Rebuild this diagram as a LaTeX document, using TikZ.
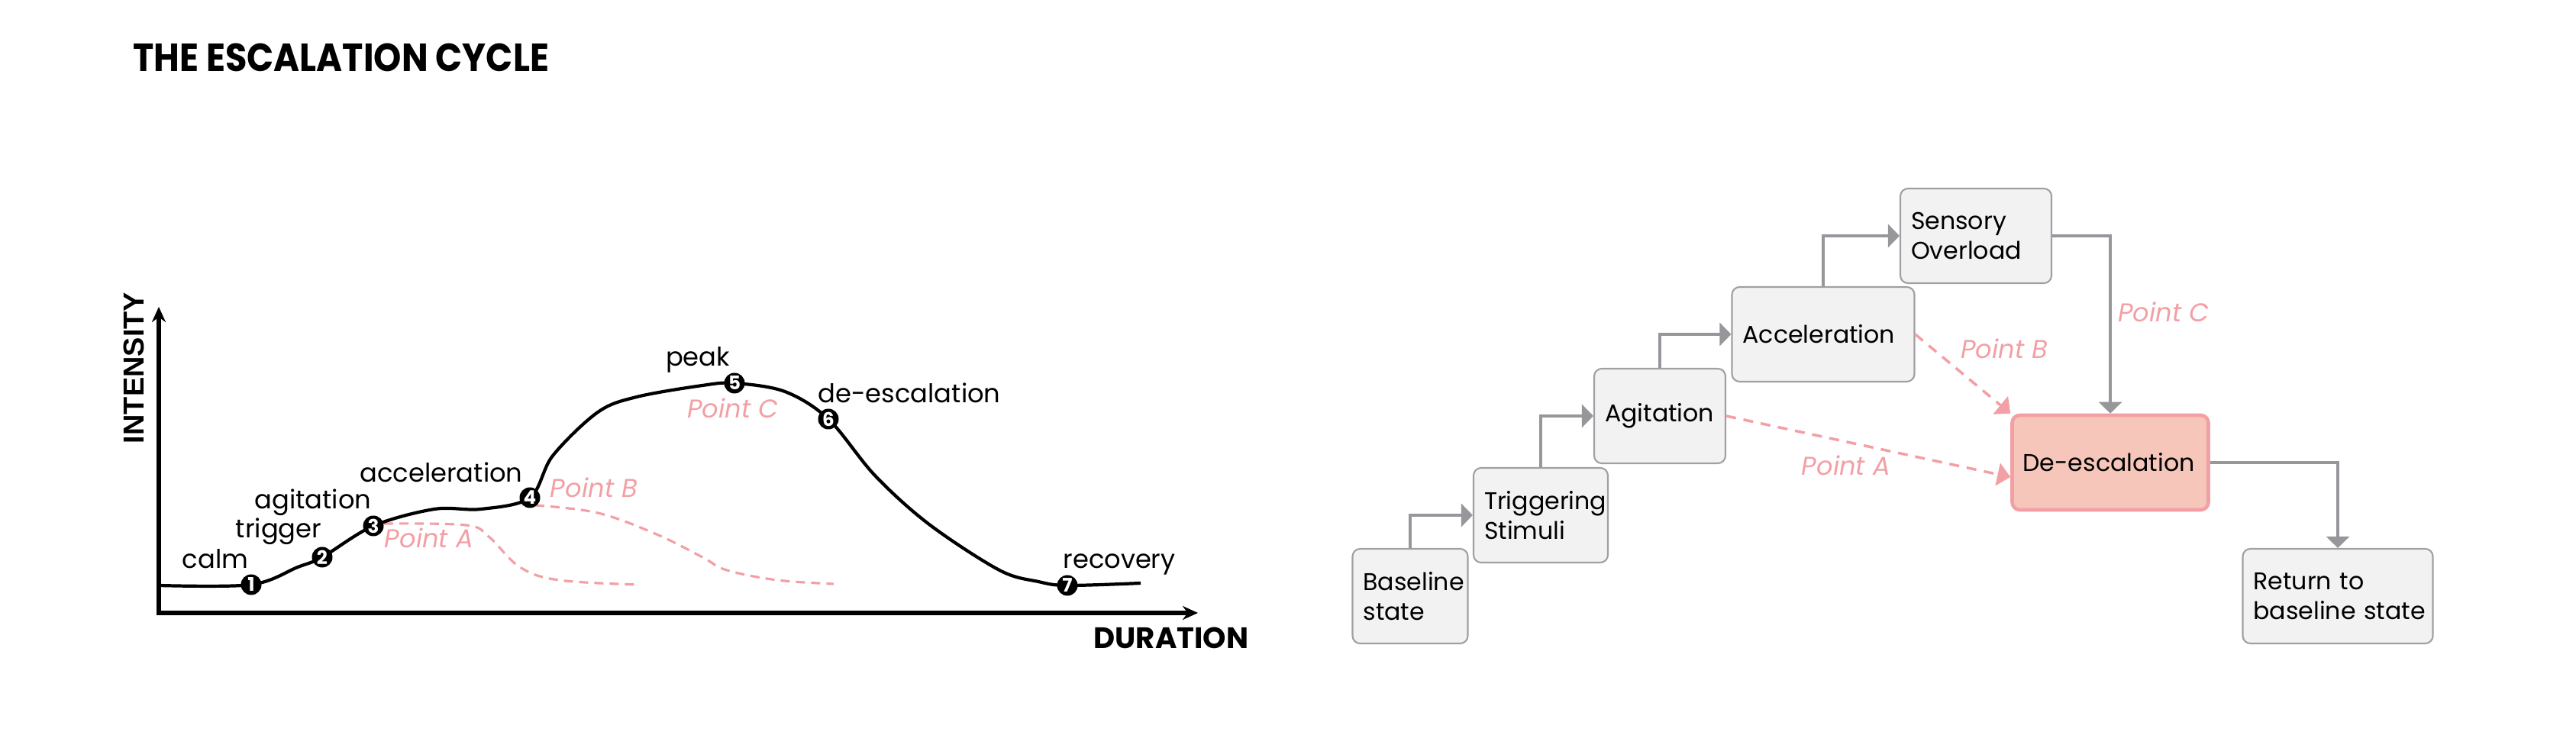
\documentclass[tikz,border=0pt]{standalone}
\usepackage{fontspec}
\setmainfont{Poppins}
\newfontfamily\titlefont[FakeStretch=0.9]{Poppins}
\newfontfamily\axisfont{Liberation Sans}
\usetikzlibrary{arrows.meta}

\definecolor{pinkline}{RGB}{242,160,165}
\definecolor{defill}{RGB}{246,198,186}
\definecolor{boxfill}{RGB}{242,242,242}
\definecolor{boxline}{RGB}{160,160,164}
\definecolor{arrowgray}{RGB}{150,151,155}

\tikzset{
  curve/.style={line width=1.2pt},
  branch/.style={pinkline, line width=0.9pt, dash pattern=on 1.2mm off 0.8mm},
  axisline/.style={line width=1.5pt, {Stealth[length=2mm,width=1.8mm]}-{Stealth[length=2mm,width=1.8mm]}},
  stagedot/.style={circle, fill=black, text=white, inner sep=0pt, minimum size=2.7mm, font=\fontsize{7}{7}\selectfont\bfseries},
  phase/.style={anchor=base, font=\fontsize{9.6}{11}\selectfont},
  pointlabel/.style={anchor=base, text=pinkline, font=\fontsize{9.6}{11}\selectfont\itshape},
  stagebox/.style={draw=boxline, fill=boxfill, line width=0.6pt, rounded corners=1mm, minimum height=1.24cm, inner xsep=1.4mm, align=left, font=\fontsize{9}{11.2}\selectfont},
  hotbox/.style={stagebox, draw=pinkline, fill=defill, line width=1.3pt},
  flowarrow/.style={arrowgray, line width=0.9pt, -{Triangle[length=1.5mm,width=3mm]}},
  pinkarrow/.style={pinkline, line width=1pt, dash pattern=on 1.3mm off 1mm, -{Triangle[length=1.7mm,width=3mm]}}
}

\begin{document}
\begin{tikzpicture}
  \useasboundingbox (0,0) rectangle (33.74,9.59);
  \node[anchor=base west, font=\titlefont\fontsize{14.6}{16}\selectfont\bfseries] (title) at (1.62,8.65) {THE ESCALATION CYCLE};

  %% axes
  \draw[axisline] (2.08,5.57) |- (15.69,1.56);
  \node[rotate=90, font=\axisfont\fontsize{10.8}{12}\selectfont\bfseries] (ylab) at (1.75,4.77) {INTENSITY};
  \node[anchor=base, font=\fontsize{11}{12}\selectfont\bfseries] (xlab) at (15.34,1.09) {DURATION};

  %% other outcomes
  \draw[branch] plot[smooth, tension=0.6] coordinates {(5.03,2.73) (6.10,2.71) (6.40,2.56) (6.81,2.16) (7.32,1.99) (8.37,1.93)};
  \draw[branch] plot[smooth, tension=0.6] coordinates {(7.01,2.97) (7.83,2.87) (8.60,2.59) (9.20,2.29) (9.52,2.12) (10.18,1.99) (10.92,1.94)};

  %% main cycle
  \draw[curve] plot[smooth, tension=0.55] coordinates {(2.08,1.92) (3.29,1.93) (3.90,2.16) (4.22,2.29) (4.89,2.70) (5.69,2.92) (6.30,2.92) (6.94,3.07) (7.24,3.62) (7.83,4.19) (8.34,4.39) (9.20,4.54) (9.62,4.57) (10.28,4.46) (10.85,4.10) (11.46,3.36) (12.17,2.72) (13.09,2.12) (13.60,1.97) (13.98,1.92) (14.94,1.95)};

  \node[stagedot] (s1) at (3.29,1.93) {1};
  \node[stagedot] (s2) at (4.22,2.29) {2};
  \node[stagedot] (s3) at (4.89,2.70) {3};
  \node[stagedot] (s4) at (6.94,3.07) {4};
  \node[stagedot] (s5) at (9.62,4.57) {5};
  \node[stagedot] (s6) at (10.85,4.10) {6};
  \node[stagedot] (s7) at (13.98,1.92) {7};

  \node[phase] (calm) at (2.82,2.14) {calm};
  \node[phase] (trig) at (3.65,2.54) {trigger};
  \node[phase] (agit) at (4.10,2.92) {agitation};
  \node[phase] (accel) at (5.78,3.27) {acceleration};
  \node[phase] (peak) at (9.14,4.79) {peak};
  \node[phase] (desc) at (11.91,4.31) {de-escalation};
  \node[phase] (recov) at (14.66,2.14) {recovery};
  \node[pointlabel] (ptA) at (5.62,2.41) {Point A};
  \node[pointlabel] (ptB) at (7.78,3.07) {Point B};
  \node[pointlabel] (ptC) at (9.60,4.11) {Point C};

  %% flow of stages
  \node[stagebox, text width=1.23cm] (base) at (18.47,1.78) {Baseline\\state};
  \node[stagebox, text width=1.48cm] (trigbox) at (20.18,2.84) {Triggering\\Stimuli};
  \node[stagebox, text width=1.44cm] (agitbox) at (21.74,4.14) {Agitation};
  \node[stagebox, text width=2.11cm] (accelbox) at (23.88,5.21) {Acceleration};
  \node[stagebox, text width=1.70cm] (sense) at (25.88,6.50) {Sensory\\Overload};
  \node[hotbox, text width=2.29cm] (deesc) at (27.64,3.53) {\mbox{De-escalation}};
  \node[stagebox, text width=2.21cm] (back) at (30.62,1.78) {Return~to\\baseline~state};

  \draw[flowarrow] (base.north) |- (trigbox.west);
  \draw[flowarrow] (trigbox.north) |- (agitbox.west);
  \draw[flowarrow] (agitbox.north) |- (accelbox.west);
  \draw[flowarrow] (accelbox.north) |- (sense.west);
  \draw[flowarrow] (sense.east) -| (deesc.north);
  \draw[flowarrow] (deesc.east) -| (back.north);

  \draw[pinkarrow] (agitbox.east) -- ([yshift=-1.9mm]deesc.west);
  \draw[pinkarrow] (accelbox.east) -- (deesc.north west);

  \node[pointlabel] (flowA) at (24.18,3.36) {Point A};
  \node[pointlabel] (flowB) at (26.25,4.89) {Point B};
  \node[pointlabel] (flowC) at (28.34,5.37) {Point C};
\end{tikzpicture}
\end{document}
